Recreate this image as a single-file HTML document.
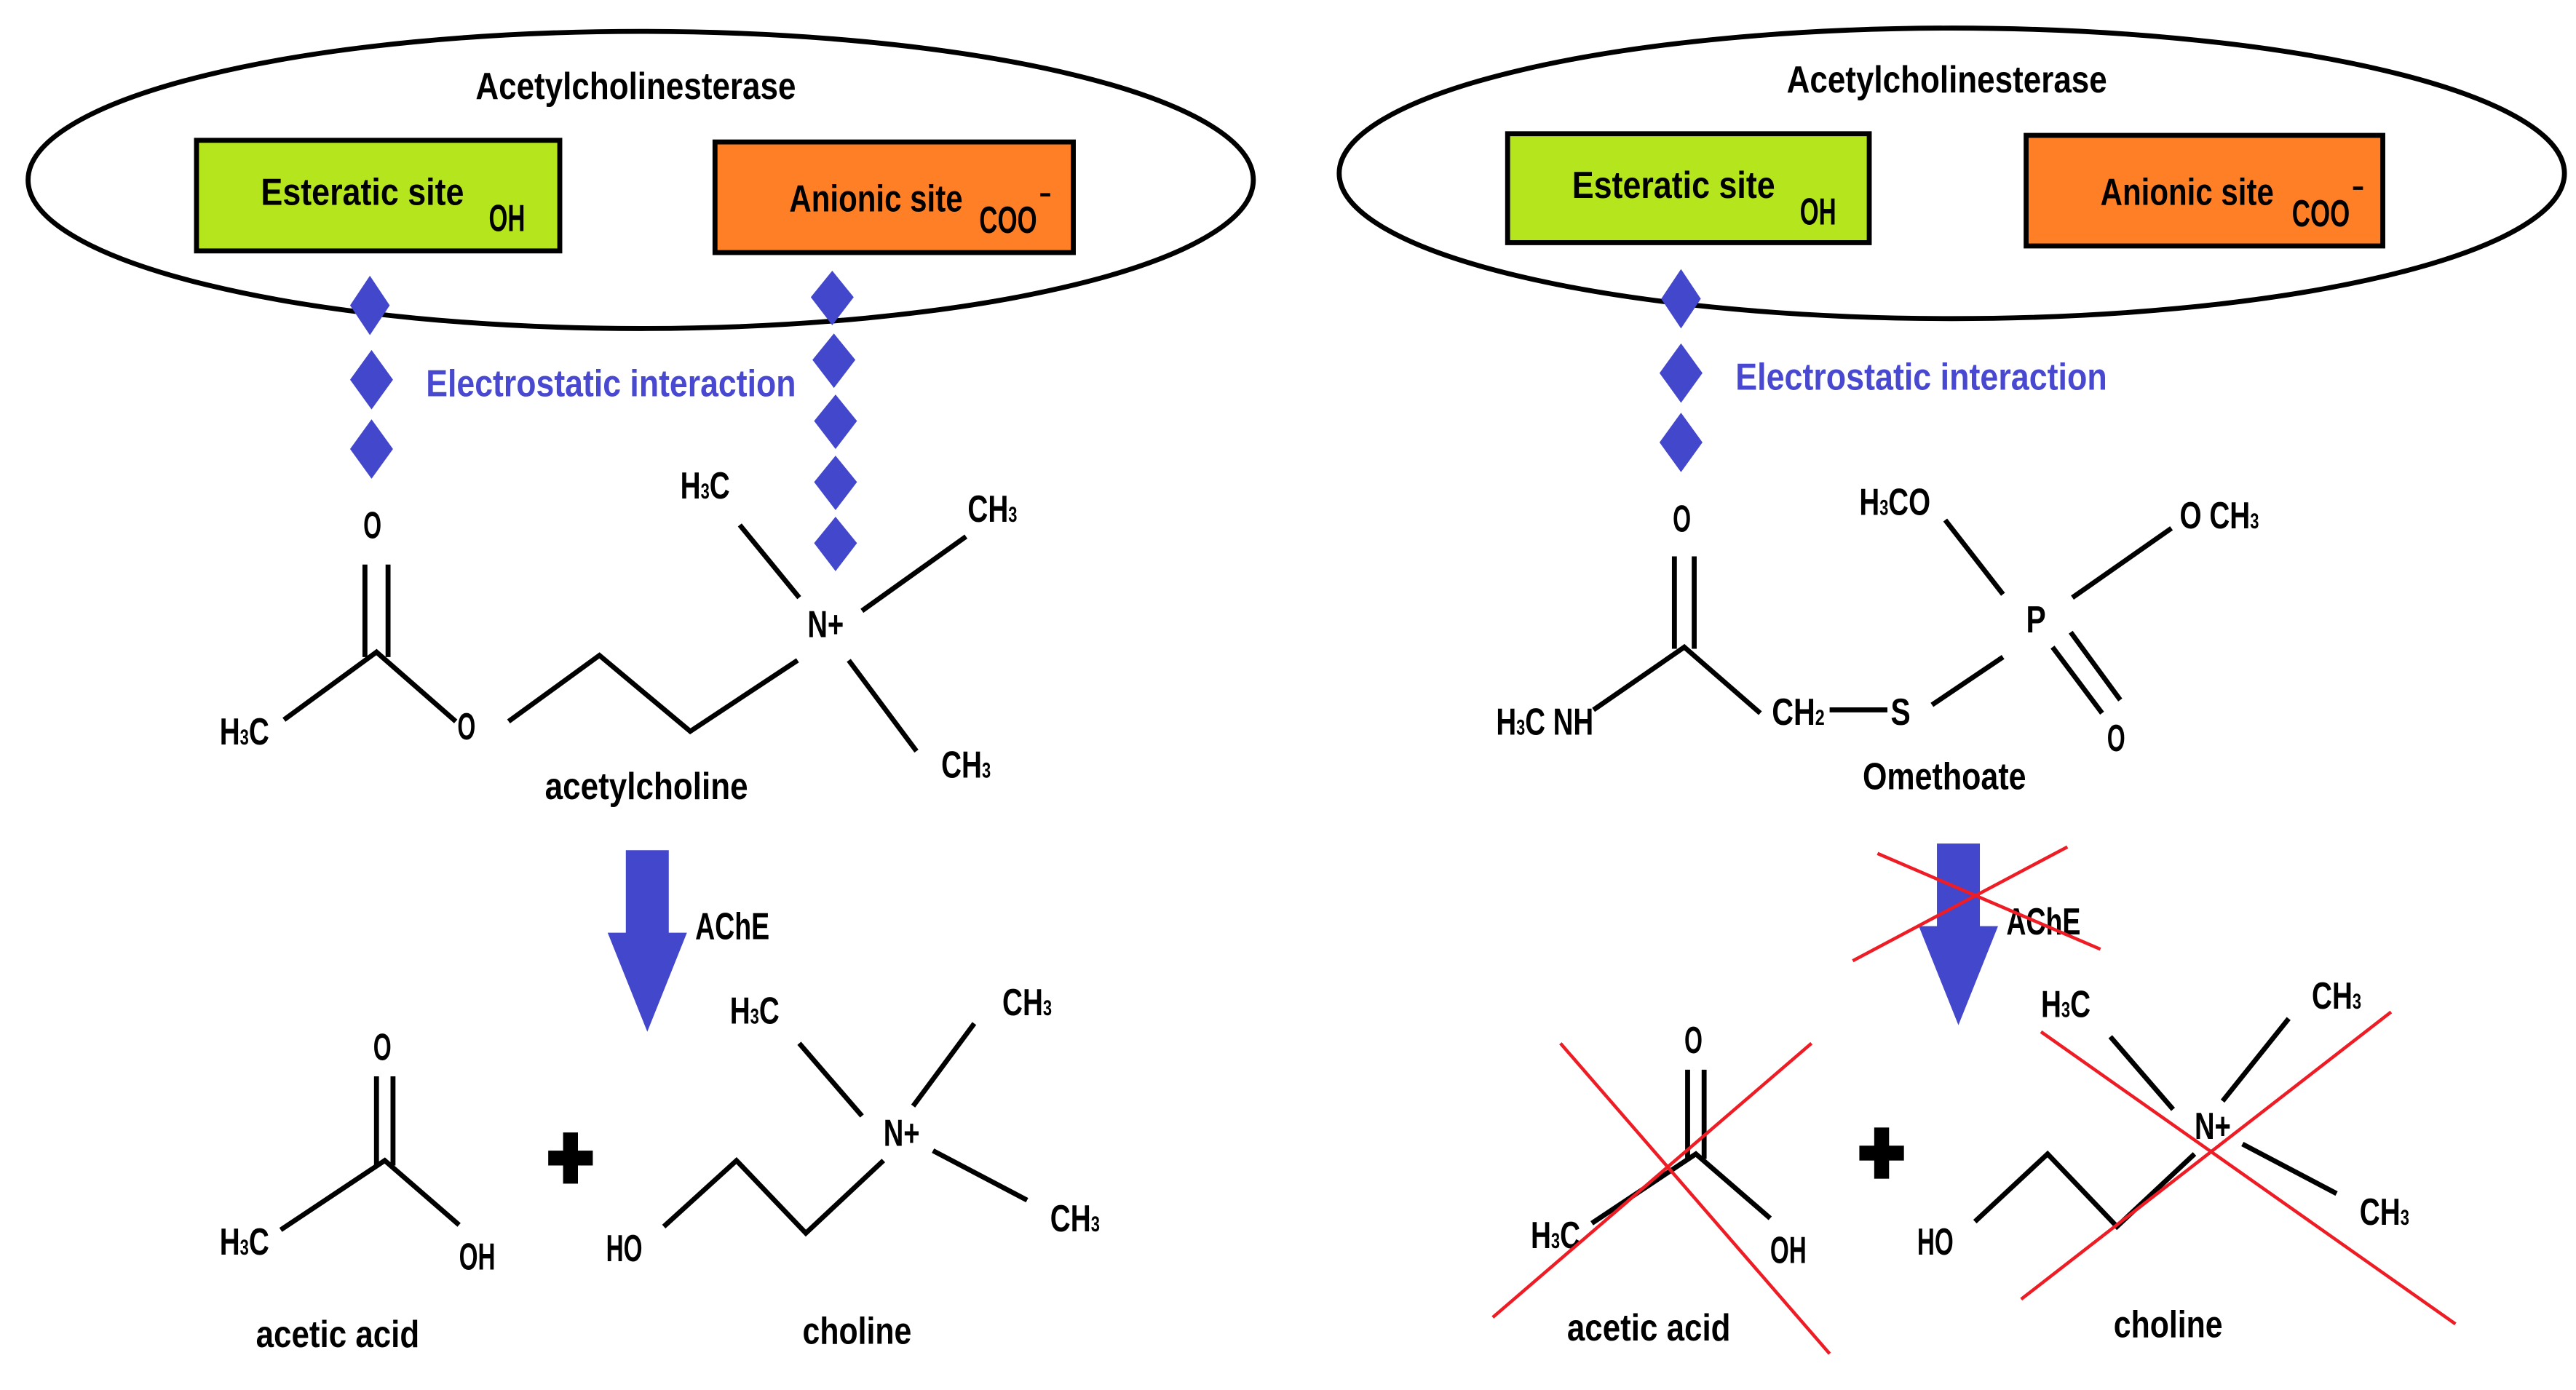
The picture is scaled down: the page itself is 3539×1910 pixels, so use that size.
<!DOCTYPE html>
<html><head><meta charset="utf-8"><style>
html,body{margin:0;padding:0;background:#fff;}
svg{display:block;}
text{font-family:"Liberation Sans Narrow","Liberation Sans",sans-serif;font-weight:bold;fill:#000;}
.t{font-size:23px;}
.s{font-size:13px;}
.b{fill:#4848d0;}
</style></head><body>
<svg width="3539" height="1910" viewBox="0 0 1560 842" preserveAspectRatio="none" xmlns="http://www.w3.org/2000/svg">
<rect width="1560" height="842" fill="#fff"/>
<g stroke="#000" stroke-width="3" fill="none">
<ellipse cx="388" cy="109" rx="371" ry="90"/>
<ellipse cx="1182" cy="105" rx="371" ry="88"/>
</g>
<rect x="119" y="85" width="220" height="67" fill="#b5e51d" stroke="#000" stroke-width="3"/>
<rect x="433" y="86" width="217" height="67" fill="#ff7f27" stroke="#000" stroke-width="3"/>
<rect x="913" y="81" width="219" height="66" fill="#b5e51d" stroke="#000" stroke-width="3"/>
<rect x="1227" y="82" width="216" height="67" fill="#ff7f27" stroke="#000" stroke-width="3"/>

<text class="t" x="288" y="60" textLength="194" lengthAdjust="spacingAndGlyphs">Acetylcholinesterase</text>
<text class="t" x="1082" y="56" textLength="194" lengthAdjust="spacingAndGlyphs">Acetylcholinesterase</text>
<text class="t" x="158" y="124" textLength="123" lengthAdjust="spacingAndGlyphs">Esteratic site</text>
<text class="t" x="296" y="140" textLength="22" lengthAdjust="spacingAndGlyphs">OH</text>
<text class="t" x="478" y="128" textLength="105" lengthAdjust="spacingAndGlyphs">Anionic site</text>
<text class="t" x="593" y="141" textLength="35" lengthAdjust="spacingAndGlyphs">COO</text>
<rect x="630" y="117" width="6" height="2" fill="#000"/>
<text class="t" x="952" y="120" textLength="123" lengthAdjust="spacingAndGlyphs">Esteratic site</text>
<text class="t" x="1090" y="136" textLength="22" lengthAdjust="spacingAndGlyphs">OH</text>
<text class="t" x="1272" y="124" textLength="105" lengthAdjust="spacingAndGlyphs">Anionic site</text>
<text class="t" x="1388" y="137" textLength="35" lengthAdjust="spacingAndGlyphs">COO</text>
<rect x="1425" y="113" width="6" height="2" fill="#000"/>

<text class="t b" x="258" y="240" textLength="224" lengthAdjust="spacingAndGlyphs">Electrostatic interaction</text>
<text class="t b" x="1051" y="236" textLength="225" lengthAdjust="spacingAndGlyphs">Electrostatic interaction</text>

<g fill="#4347cc">
<path d="M224 167 L236 185 L224 203 L212 185Z"/>
<path d="M225 212 L238 230 L225 248 L212 230Z"/>
<path d="M225 254 L238 272 L225 290 L212 272Z"/>
<path d="M504 164 L517 180 L504 197 L491 180Z"/>
<path d="M505 202 L518 218 L505 235 L492 218Z"/>
<path d="M506 239 L519 255 L506 272 L493 255Z"/>
<path d="M506 276 L519 292 L506 309 L493 292Z"/>
<path d="M506 313 L519 329 L506 346 L493 329Z"/>
<path d="M1018 163 L1030 181 L1018 199 L1006 181Z"/>
<path d="M1018 208 L1031 226 L1018 244 L1005 226Z"/>
<path d="M1018 250 L1031 268 L1018 286 L1005 268Z"/>
<path d="M379 515 H405 V565 H416 L392 625 L368 565 H379Z"/>
<path d="M1173 511 H1199 V561 H1210 L1186 621 L1162 561 H1173Z"/>
</g>

<g stroke="#000" stroke-width="3" fill="none">
<path d="M221 342 V398 M235 342 V398"/>
<path d="M172 436 L228 395 L276 437"/>
<path d="M308 437 L363 397 L418 443 L483 400"/>
<path d="M448 318 L484 362 M522 370 L585 325 M514 400 L555 455"/>
<path d="M228 652 V706 M238 652 V706"/>
<path d="M170 745 L233 703 L278 742"/>
<path d="M402 743 L446 703 L488 747 L535 703"/>
<path d="M484 632 L522 676 M590 620 L553 670 M565 697 L622 727"/>
<path d="M1014 337 V393 M1026 337 V393"/>
<path d="M965 430 L1020 392 L1066 432"/>
<path d="M1108 430 H1143"/>
<path d="M1170 427 L1213 398"/>
<path d="M1178 315 L1213 360 M1255 362 L1315 320"/>
<path d="M1243 392 L1273 432 M1254 383 L1284 424"/>
<path d="M1022 648 V702 M1032 648 V702"/>
<path d="M964 741 L1027 699 L1072 738"/>
<path d="M1196 740 L1240 699 L1282 743 L1329 699"/>
<path d="M1278 628 L1316 672 M1386 617 L1346 667 M1358 693 L1415 723"/>
</g>

<g fill="#000">
<rect x="341" y="686" width="9" height="31"/><rect x="332" y="697" width="27" height="9"/>
<rect x="1135" y="683" width="9" height="31"/><rect x="1126" y="694" width="27" height="9"/>
</g>

<text class="t" x="220" y="326" textLength="11" lengthAdjust="spacingAndGlyphs">O</text>
<text class="t" x="133" y="451" textLength="30" lengthAdjust="spacingAndGlyphs">H<tspan class="s">3</tspan>C</text>
<text class="t" x="277" y="448" textLength="11" lengthAdjust="spacingAndGlyphs">O</text>
<text class="t" x="412" y="302" textLength="30" lengthAdjust="spacingAndGlyphs">H<tspan class="s">3</tspan>C</text>
<text class="t" x="586" y="316" textLength="30" lengthAdjust="spacingAndGlyphs">CH<tspan class="s">3</tspan></text>
<text class="t" x="489" y="386" textLength="22" lengthAdjust="spacingAndGlyphs">N+</text>
<text class="t" x="570" y="471" textLength="30" lengthAdjust="spacingAndGlyphs">CH<tspan class="s">3</tspan></text>
<text class="t" x="330" y="484" textLength="123" lengthAdjust="spacingAndGlyphs">acetylcholine</text>
<text class="t" x="421" y="569" textLength="45" lengthAdjust="spacingAndGlyphs">AChE</text>
<text class="t" x="226" y="642" textLength="11" lengthAdjust="spacingAndGlyphs">O</text>
<text class="t" x="133" y="760" textLength="30" lengthAdjust="spacingAndGlyphs">H<tspan class="s">3</tspan>C</text>
<text class="t" x="278" y="769" textLength="22" lengthAdjust="spacingAndGlyphs">OH</text>
<text class="t" x="155" y="816" textLength="99" lengthAdjust="spacingAndGlyphs">acetic acid</text>
<text class="t" x="367" y="764" textLength="22" lengthAdjust="spacingAndGlyphs">HO</text>
<text class="t" x="442" y="620" textLength="30" lengthAdjust="spacingAndGlyphs">H<tspan class="s">3</tspan>C</text>
<text class="t" x="607" y="615" textLength="30" lengthAdjust="spacingAndGlyphs">CH<tspan class="s">3</tspan></text>
<text class="t" x="535" y="694" textLength="22" lengthAdjust="spacingAndGlyphs">N+</text>
<text class="t" x="636" y="746" textLength="30" lengthAdjust="spacingAndGlyphs">CH<tspan class="s">3</tspan></text>
<text class="t" x="486" y="814" textLength="66" lengthAdjust="spacingAndGlyphs">choline</text>

<text class="t" x="1013" y="322" textLength="11" lengthAdjust="spacingAndGlyphs">O</text>
<text class="t" x="906" y="445" textLength="59" lengthAdjust="spacingAndGlyphs">H<tspan class="s">3</tspan>C NH</text>
<text class="t" x="1073" y="439" textLength="32" lengthAdjust="spacingAndGlyphs">CH<tspan class="s">2</tspan></text>
<text class="t" x="1145" y="439" textLength="12" lengthAdjust="spacingAndGlyphs">S</text>
<text class="t" x="1227" y="383" textLength="12" lengthAdjust="spacingAndGlyphs">P</text>
<text class="t" x="1126" y="312" textLength="43" lengthAdjust="spacingAndGlyphs">H<tspan class="s">3</tspan>CO</text>
<text class="t" x="1320" y="320" textLength="48" lengthAdjust="spacingAndGlyphs">O CH<tspan class="s">3</tspan></text>
<text class="t" x="1276" y="455" textLength="11" lengthAdjust="spacingAndGlyphs">O</text>
<text class="t" x="1128" y="478" textLength="99" lengthAdjust="spacingAndGlyphs">Omethoate</text>
<text class="t" x="1215" y="566" textLength="45" lengthAdjust="spacingAndGlyphs">AChE</text>
<text class="t" x="1020" y="638" textLength="11" lengthAdjust="spacingAndGlyphs">O</text>
<text class="t" x="927" y="756" textLength="30" lengthAdjust="spacingAndGlyphs">H<tspan class="s">3</tspan>C</text>
<text class="t" x="1072" y="765" textLength="22" lengthAdjust="spacingAndGlyphs">OH</text>
<text class="t" x="949" y="812" textLength="99" lengthAdjust="spacingAndGlyphs">acetic acid</text>
<text class="t" x="1161" y="760" textLength="22" lengthAdjust="spacingAndGlyphs">HO</text>
<text class="t" x="1236" y="616" textLength="30" lengthAdjust="spacingAndGlyphs">H<tspan class="s">3</tspan>C</text>
<text class="t" x="1400" y="611" textLength="30" lengthAdjust="spacingAndGlyphs">CH<tspan class="s">3</tspan></text>
<text class="t" x="1329" y="690" textLength="22" lengthAdjust="spacingAndGlyphs">N+</text>
<text class="t" x="1429" y="742" textLength="30" lengthAdjust="spacingAndGlyphs">CH<tspan class="s">3</tspan></text>
<text class="t" x="1280" y="810" textLength="66" lengthAdjust="spacingAndGlyphs">choline</text>

<g stroke="#ee1c24" stroke-width="2" fill="none">
<path d="M1137 517 L1272 575 M1122 582 L1252 513"/>
<path d="M904 798 L1097 632 M945 632 L1108 820"/>
<path d="M1236 625 L1487 802 M1224 787 L1448 613"/>
</g>
</svg>
</body></html>
